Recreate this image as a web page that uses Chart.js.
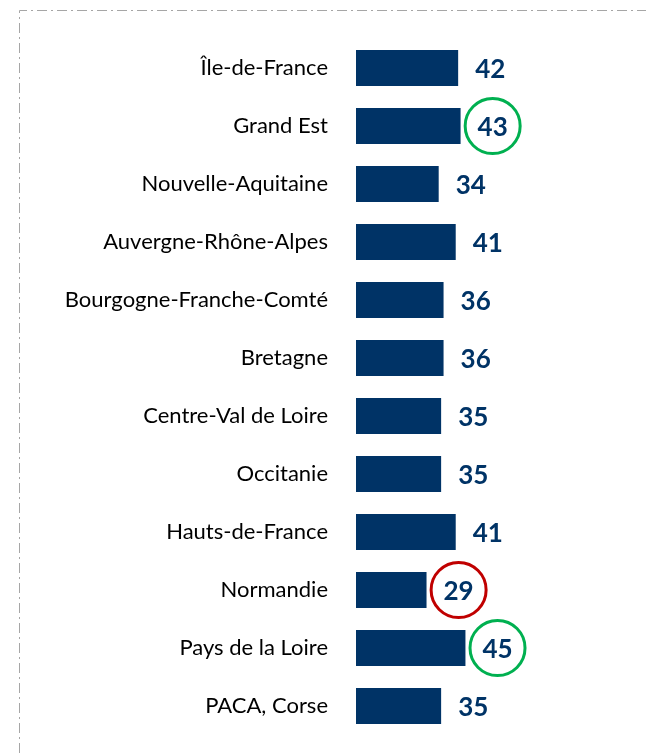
<!DOCTYPE html>
<html>
<head>
<meta charset="utf-8">
<script src="https://cdn.jsdelivr.net/npm/chart.js@4/dist/chart.umd.min.js"></script>
<style>
  html, body { margin: 0; padding: 0; background: #fff; overflow: hidden; }
  canvas { display: block; }
</style>
</head>
<body>
<canvas id="graphique" width="646" height="753"></canvas>
<script>
// Données du graphique
const regions = [
  "Île-de-France", "Grand Est", "Nouvelle-Aquitaine", "Auvergne-Rhône-Alpes",
  "Bourgogne-Franche-Comté", "Bretagne", "Centre-Val de Loire", "Occitanie",
  "Hauts-de-France", "Normandie", "Pays de la Loire", "PACA, Corse"
];
const valeurs = [42, 43, 34, 41, 36, 36, 35, 35, 41, 29, 45, 35];
const meilleures = ["Grand Est", "Pays de la Loire"];   // entourées en vert
const moins_bonnes = ["Normandie"];                      // entourée en rouge

const BLEU = "#003366";

// cadre pointillé + étiquettes de valeur avec cercles
const decor = {
  id: "decor",
  beforeDraw(chart) {
    const c = chart.ctx;
    c.save();
    c.strokeStyle = "#a6a6a6";
    c.lineWidth = 1;
    c.setLineDash([10, 4, 2, 4]);
    c.beginPath();
    c.moveTo(19.5, 753);
    c.lineTo(19.5, 10.5);
    c.lineTo(646, 10.5);
    c.stroke();
    c.restore();
  },
  afterDatasetsDraw(chart) {
    const c = chart.ctx;
    const meta = chart.getDatasetMeta(0);
    c.save();
    c.font = "bold 26px Lato";
    c.fillStyle = BLEU;
    c.textAlign = "left";
    c.textBaseline = "middle";
    meta.data.forEach((bar, i) => {
      const txt = String(valeurs[i]);
      const x = bar.x + 17;
      const y = bar.y + 2;
      c.fillText(txt, x, y);
      let couleur = null;
      if (meilleures.includes(regions[i])) couleur = "#00b050";
      if (moins_bonnes.includes(regions[i])) couleur = "#c00000";
      if (couleur) {
        const w = c.measureText(txt).width;
        c.beginPath();
        c.strokeStyle = couleur;
        c.lineWidth = 3;
        c.arc(x + w / 2, bar.y, 27.5, 0, Math.PI * 2);
        c.stroke();
      }
    });
    c.restore();
  }
};

const config = {
  type: "bar",
  data: {
    labels: regions,
    datasets: [{
      data: valeurs,
      backgroundColor: BLEU,
      categoryPercentage: 1,
      barPercentage: 0.62
    }]
  },
  options: {
    indexAxis: "y",
    responsive: false,
    animation: false,
    layout: { padding: { left: 0, right: 3, top: 39, bottom: 18 } },
    plugins: { legend: { display: false }, tooltip: { enabled: false } },
    scales: {
      x: { display: false, min: 0, max: 118 },
      y: {
        grid: { display: false, drawTicks: false },
        border: { display: false },
        ticks: { color: "#000", font: { family: "Lato", size: 22 }, padding: 28 },
        afterFit(scale) {
          scale.width = 356;
          scale.paddingTop = 0;
          scale.paddingBottom = 0;
        }
      }
    }
  },
  plugins: [decor]
};

new Chart(document.getElementById("graphique").getContext("2d"), config);
</script>
</body>
</html>
